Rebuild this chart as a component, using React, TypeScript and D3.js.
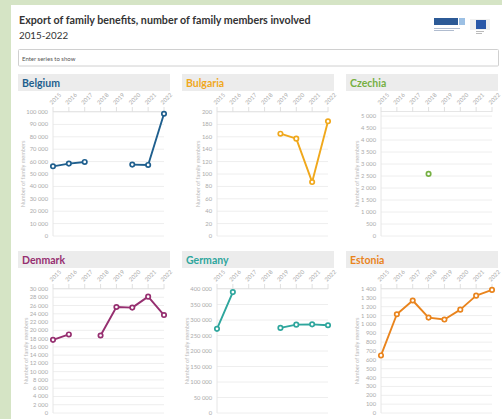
import React from 'react';
import * as d3 from 'd3';

// years along the top axis
const years = ['2015', '2016', '2017', '2018', '2019', '2020', '2021', '2022'];

// number of family members per country (null = no data)
const belgium = [56200, 58400, 59700, null, null, 57600, 57300, 98600];
const bulgaria = [null, null, null, null, 165, 157, 87, 185];
const czechia = [null, null, null, 2590, null, null, null, null];
const denmark = [17700, 19000, null, 18750, 25650, 25500, 28150, 23700];
const germany = [271500, 390000, null, null, 274500, 285000, 286000, 283000];
const estonia = [650, 1115, 1270, 1077, 1055, 1167, 1325, 1390];

const countries = ['Belgium', 'Bulgaria', 'Czechia', 'Denmark', 'Germany', 'Estonia'];
const colors = ['#1f5f8e', '#f0a81c', '#76b043', '#962f70', '#2ea69d', '#e9841d'];
const series = [belgium, bulgaria, czechia, denmark, germany, estonia];
const tickSteps = [10000, 20, 500, 2000, 50000, 100];
const tickMaxes = [100000, 200, 5000, 30000, 400000, 1400];
const axisMaxes = [100000, 200, 5170, 30000, 400000, 1400];

const W = 502;
const H = 419;
const font = 'Lato, "Open Sans", sans-serif';
const colX = [18, 182, 346];
const rowY = [74, 251];
const fmt = (v: number) => d3.format(',')(v).replace(/,/g, ' ');

function Panel({ i }: { i: number }) {
  const px = colX[i % 3];
  const hy = rowY[Math.floor(i / 3)];
  const left = px + 35;
  const right = px + 146;
  const top = hy + 38;
  const bottom = hy + 162;
  const color = colors[i];
  const vals = series[i];

  const x = d3.scalePoint<string>().domain(years).range([left, right]);
  const y = d3.scaleLinear().domain([0, axisMaxes[i]]).range([bottom, top]);
  const ticks = d3.range(0, tickMaxes[i] + tickSteps[i] / 2, tickSteps[i]);
  const maxLabel = fmt(tickMaxes[i]).length * 2.7;

  const line = d3
    .line<number | null>()
    .defined((d) => d != null)
    .x((_, k) => x(years[k]) as number)
    .y((d) => y(d as number));

  return (
    <g>
      <rect x={px} y={hy} width={152} height={17} fill="#ececec" />
      <text x={px + 4} y={hy + 12.5} fontSize={10.5} fontWeight={700} fill={color} fontFamily={font}>
        {countries[i]}
      </text>
      {ticks.map((t) => (
        <g key={t}>
          <line x1={left} x2={right} y1={y(t)} y2={y(t)} stroke="#eeeeee" strokeWidth={1} />
          <text x={left - 5} y={y(t) + 2} fontSize={5.8} fill="#aaaaaa" textAnchor="end" fontFamily={font}>
            {fmt(t)}
          </text>
        </g>
      ))}
      <line x1={left} x2={left} y1={top} y2={bottom} stroke="#e6e6e6" />
      <line x1={left} x2={right} y1={top - 0.5} y2={top - 0.5} stroke="#e6e6e6" />
      {years.map((yr) => {
        const xx = x(yr) as number;
        return (
          <g key={yr}>
            <line x1={xx} x2={xx} y1={top - 5} y2={top} stroke="#e0e0e0" />
            <text
              transform={`translate(${xx - 1},${top - 7}) rotate(-45)`}
              fontSize={5.8}
              fill="#aaaaaa"
              fontFamily={font}
            >
              {yr}
            </text>
          </g>
        );
      })}
      <text
        transform={`translate(${left - 9 - maxLabel},${(top + bottom) / 2}) rotate(-90)`}
        fontSize={5.6}
        fill="#bbbbbb"
        textAnchor="middle"
        fontFamily={font}
      >
        Number of family members
      </text>
      <path d={line(vals) || ''} fill="none" stroke={color} strokeWidth={1.9} strokeLinejoin="round" />
      {vals.map((v, k) =>
        v == null ? null : (
          <circle key={k} cx={x(years[k]) as number} cy={y(v)} r={2.2} fill="#fff" stroke={color} strokeWidth={1.7} />
        )
      )}
    </g>
  );
}

export default function App() {
  return (
    <svg width={W} height={H} style={{ position: 'absolute', left: 0, top: 0, display: 'block' }}>
      <rect width={W} height={H} fill="#d5e4c5" />
      <rect x={11} y={5} width={W - 11} height={H - 5} fill="#ffffff" />
      <text x={19} y={24} fontSize={10.7} fontWeight={700} fill="#333333" fontFamily={font}>
        Export of family benefits, number of family members involved
      </text>
      <text x={19} y={38.5} fontSize={9.8} fill="#333333" fontFamily={font}>
        2015-2022
      </text>
      {/* logos */}
      <rect x={434} y={18} width={24} height={7} fill="#2c5a96" />
      <rect x={459} y={18} width={6} height={7} fill="#9cc0e4" />
      <rect x={434} y={28} width={26} height={1} fill="#b0bccf" />
      <rect x={434} y={30} width={20} height={1} fill="#b0bccf" />
      <rect x={470} y={19} width={20} height={11} fill="#f0f0f0" />
      <rect x={476} y={20} width={10} height={9} fill="#2a58a8" />
      <rect x={476} y={31} width={8} height={1} fill="#bbbbbb" />
      <rect x={476} y={33} width={6} height={1} fill="#bbbbbb" />
      {/* search box */}
      <rect x={18.5} y={49.5} width={480} height={16.5} fill="#fff" stroke="#d0d0d0" rx={1} />
      <text x={22} y={60.5} fontSize={6} fill="#555555" fontFamily={font}>
        Enter series to show
      </text>
      {countries.map((_, i) => (
        <Panel key={i} i={i} />
      ))}
    </svg>
  );
}
